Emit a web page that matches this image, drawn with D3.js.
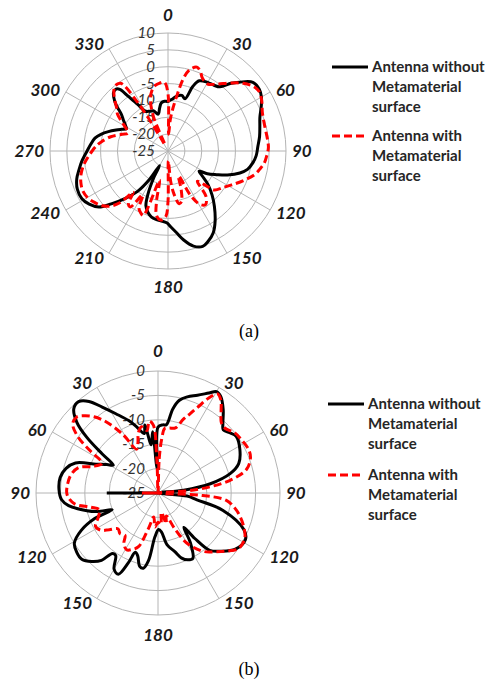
<!DOCTYPE html>
<html>
<head>
<meta charset="utf-8">
<script src="https://cdn.jsdelivr.net/npm/d3@7"></script>
<style>
  body { margin: 0; background: #fff; }
  svg { display: block; }
</style>
</head>
<body>
<script>
// ---- chart (a): dB versus angle (deg) ----
const angA0 = [0,5,9,14,18,21,24,30,35,39,43,46,51,56,60,64,70,75,81,87,93,98,103,107,112,116,120,123,126,130,135,140,146,151,156,160,165,170,174,178,181,186,190,194,198,202,205,208,210,213,217,222,227,231,236,241,247,253,258,263,270,275,280,284,288,292,295,298,301,305,308,311,313,317,320,322,324,327,330,335,340,345,349,352,356];
const dbA0  = [-10.3,-9.5,-8.5,-8,-8.7,-4.5,-2.2,-1.5,-1.2,-0.5,2.5,4.4,7.4,7.7,7,5.8,4,3.2,2.5,1.7,1.2,0.4,-0.8,-2.7,-6,-9,-11.5,-14,-12.5,-9.5,-6.5,-3.6,0,2.7,4.3,5.1,4.2,1.8,-0.6,-2.5,-3.7,-4.2,-4.4,-4.8,-5.8,-7.5,-11,-16,-20,-15,-10,-6.1,-2,1.4,3.2,4.2,4.2,3.3,2,0.8,-1,-2,-3,-4.5,-6.4,-8.4,-9.8,-11,-10.3,-8.8,-7.5,-5,-3.4,-1.3,-1,-1.8,-5,-8.5,-11.3,-12,-12.3,-13.7,-12,-10.6,-10.2];

const angA1 = [0,2,4,6,9,12,15,19,22,25,28,31,36,43,48,53,57,62,68,77,83,88,93,97,101,105,111,118,124,130,133,136,140,145,149,153,157,161,165,168,172,175,178,180,182,186,190,193,196,201,204,207,210,214,217,220,223,226,230,235,240,245,250,255,260,264,270,275,278,284,290,294,298,302,306,310,314,318,321,325,328,331,334,337,341,345,349,353,357];
const dbA1  = [-8,-20,-16,-13,-8.6,-3,0,1.3,0.5,-1,-1.7,-1.9,-0.5,2.6,5,6.8,7.3,6.5,5.2,4.6,4.7,4.8,4.3,3.8,2.8,1.7,-0.8,-3.6,-5.5,-7,-10.5,-12.5,-7.5,-5.6,-6.5,-10,-17,-13,-9.5,-9,-12,-16,-22,-10,-5.5,-4.4,-5.5,-10,-16,-4.5,-5,-6,-10,-5,-5.5,-9,-4,-1.5,0.3,1.6,2.6,2.9,2.5,1.7,0.5,-0.7,-2.5,-4,-5.1,-7.5,-10.5,-12,-11,-9,-6.5,-5.1,-3,-1,-0.1,-0.5,-8,-20,-23,-14,-9,-6.5,-5.2,-4.7,-4.6];

const ringsA = [10, 5, 0, -5, -10, -15, -20];
const labelsA = ["0","30","60","90","120","150","180","210","240","270","300","330"];

// ---- chart (b) ----
const angB0 = [0,4,7,10,13,17,22,27,30,33,38,43,46,50,54,62,70,75,80,84,90,96,100,105,113,118,126,133,138,141,143,147,152,156,160,164,170,175,179,184,188,191,194,198,201,203,206,210,214,217,220,224,229,234,239,244,248,250,253,256,262,266,272,279,285,290,295,299,302,305,308,311,315,319,323,327,332,338,342,347,349,352,355,358];
const dbB0  = [-11.5,-11,-10.9,-7.5,-5.5,-4.4,-3.4,-2,-1,-1.4,-3.3,-5.5,-6.4,-5.8,-5.2,-6,-7.4,-9.7,-14.1,-19.7,-25,-19,-16.9,-11.2,-5.9,-4.7,-5.4,-7.5,-9.2,-13,-16.2,-12.8,-9.8,-10,-10.8,-12.5,-14.2,-17,-17.5,-16,-11,-9.3,-9.5,-11.5,-12,-9.5,-6.5,-7,-9.5,-9.5,-7,-5.5,-4.3,-4.4,-5,-7.5,-11,-15,-12,-10,-6.5,-5.2,-4.7,-4.7,-5.5,-7,-11,-13,-14.2,-11,-6.5,-3,-0.6,-0.2,-1.5,-4,-6.6,-9,-10.7,-12.5,-10.8,-15,-12.4,-20];

const angB1 = [0,2,4,6,10,15,19,22,25,28,31,34,38,42,46,52,58,64,69,75,80,85,90,93,96,101,106,112,117,121,125,130,135,142,150,155,160,165,170,175,180,185,190,195,200,205,209,214,218,223,228,233,237,242,248,254,258,262,266,270,276,282,288,292,298,302,305,309,313,316,320,324,329,334,338,342,346,350,353,356,358];
const dbB1  = [-25,-18,-13.8,-11.7,-11.5,-11.2,-9,-7.5,-5.5,-3,-1.3,-2,-4,-5.6,-5.9,-5,-4.7,-4.4,-4.7,-6.2,-10,-17,-25,-16.4,-11,-9,-7.5,-6,-5,-4.8,-5,-6.5,-8,-9.8,-13.1,-17,-20,-18.5,-21,-18.5,-19,-18,-20,-17.5,-13.3,-12.2,-11.7,-12.5,-14,-13.6,-14,-12.5,-11,-10.5,-11.8,-12.5,-11,-8,-6.8,-6.3,-6.4,-6.8,-8,-10.5,-12,-8.5,-5,-2.5,-2.2,-3,-4.6,-7,-11,-15,-14,-12,-11,-12,-10.2,-11,-18];

// isolated radial strokes on the 270 spoke of chart (b): [angle, from, to]
const stubB0 = [270, -25, -14.5];
const stubB1 = [270, -25, -21.7];

const ringsB = [0, -5, -10, -15, -20];
const labelsB = ["0","30","60","90","120","150","180","150","120","90","60","30"];

const legendText = [["Antenna without", "Metamaterial", "surface"], ["Antenna with", "Metamaterial", "surface"]];

const W = 495, H = 684;
const svg = d3.select("body").append("svg").attr("width", W).attr("height", H);

const rad = a => a * Math.PI / 180;

const polar = (cfg) => {
  const g = svg.append("g").attr("transform", `translate(${cfg.cx},${cfg.cy})`);
  const r = d3.scaleLinear().domain(cfg.domain).range([0, cfg.R]);
  const R = cfg.R;

  g.selectAll("circle.ring").data(cfg.rings).enter().append("circle")
    .attr("class", "ring")
    .attr("r", d => r(d))
    .attr("fill", "none")
    .attr("stroke", "#b4b4b4")
    .attr("stroke-width", 1);

  const spokes = d3.range(0, 360, 30);
  g.selectAll("line.spoke").data(spokes).enter().append("line")
    .attr("x1", 0).attr("y1", 0)
    .attr("x2", d => R * Math.sin(rad(d)))
    .attr("y2", d => -R * Math.cos(rad(d)))
    .attr("stroke", "#b4b4b4")
    .attr("stroke-width", 1);

  // radial tick labels
  g.selectAll("text.rtick").data(cfg.rings.concat([cfg.domain[0]])).enter().append("text")
    .attr("x", -13)
    .attr("y", d => -r(d) + 5)
    .attr("text-anchor", "end")
    .style("font", "italic 15px Lato, 'Open Sans', sans-serif")
    .attr("fill", "#333")
    .text(d => d);

  // angle labels
  g.selectAll("text.alab").data(cfg.labels).enter().append("text")
    .style("font", "italic bold 17px Lato, 'Open Sans', sans-serif")
    .attr("fill", "#1a1a1a")
    .attr("text-anchor", "middle")
    .text(d => d)
    .each(function(d, i) {
      const a = rad(i * 30);
      const s = Math.sin(a), c = Math.cos(a);
      const w = this.getComputedTextLength();
      const dx = Math.abs(s) < 0.01 ? 0 : Math.sign(s) * (w / 2 + 4 + 2 * Math.abs(s));
      const dy = -c * (Math.abs(c) > 0.99 ? cfg.vgap : 5);
      d3.select(this)
        .attr("x", R * s + dx)
        .attr("y", -R * c + dy + 6);
    });

  const line = d3.lineRadial()
    .angle(d => rad(d[0]))
    .radius(d => r(d[1]))
    .curve(d3.curveCatmullRomClosed.alpha(0.5));

  const stub = s => d3.lineRadial().angle(d => rad(d[0])).radius(d => r(d[1]))([[s[0], s[1]], [s[0], s[2]]]);

  if (cfg.stub0) g.append("path").attr("d", stub(cfg.stub0))
    .attr("stroke", "#000").attr("stroke-width", 3).attr("fill", "none");
  g.append("path").datum(d3.zip(cfg.ang0, cfg.db0))
    .attr("d", line)
    .attr("fill", "none").attr("stroke", "#000").attr("stroke-width", 3)
    .attr("stroke-linejoin", "round");
  if (cfg.stub1) g.append("path").attr("d", stub(cfg.stub1))
    .attr("stroke", "#ff0000").attr("stroke-width", 3).attr("fill", "none");
  g.append("path").datum(d3.zip(cfg.ang1, cfg.db1))
    .attr("d", line)
    .attr("fill", "none").attr("stroke", "#ff0000").attr("stroke-width", 3)
    .attr("stroke-dasharray", "8,4");
};

const legend = (x, y0, y1) => {
  const g = svg.append("g");
  [y0, y1].forEach((y, k) => {
    g.append("line")
      .attr("x1", x).attr("x2", x + 36).attr("y1", y).attr("y2", y)
      .attr("stroke", k ? "#ff0000" : "#000")
      .attr("stroke-width", 3)
      .attr("stroke-dasharray", k ? "8,4" : null);
    g.selectAll(null).data(legendText[k]).enter().append("text")
      .attr("x", x + 40)
      .attr("y", (d, i) => y + 5 + i * 20)
      .style("font", "bold 15px Lato, 'Open Sans', sans-serif")
      .attr("fill", "#262626")
      .text(d => d);
  });
};

polar({cx: 168, cy: 151, R: 118, domain: [-25, 10], rings: ringsA, labels: labelsA, vgap: 18,
  ang0: angA0, db0: dbA0, ang1: angA1, db1: dbA1});
polar({cx: 158, cy: 493, R: 122, domain: [-25, 0], rings: ringsB, labels: labelsB, vgap: 20,
  ang0: angB0, db0: dbB0, ang1: angB1, db1: dbB1, stub0: stubB0, stub1: stubB1});

legend(332, 67, 136);
legend(328, 404, 475);

svg.append("text").attr("x", 249).attr("y", 337).attr("text-anchor", "middle")
  .style("font", "18px 'Liberation Serif', serif").text("(a)");
svg.append("text").attr("x", 249).attr("y", 675).attr("text-anchor", "middle")
  .style("font", "18px 'Liberation Serif', serif").text("(b)");
</script>
</body>
</html>
